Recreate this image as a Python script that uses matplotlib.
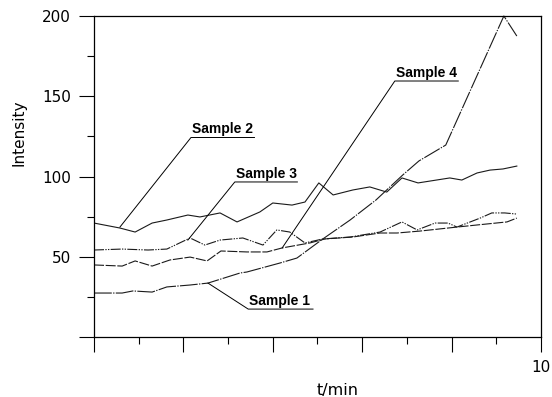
import matplotlib
matplotlib.use('Agg')
from matplotlib import pyplot as plt
from matplotlib.ticker import MultipleLocator, FuncFormatter

plt.rcParams['font.family'] = ['DejaVu Sans']

# values (t in min, intensity)
t1 = [0, 0.63, 0.87, 1.30, 1.63, 2.15, 2.55, 3.27, 3.42, 4.16, 4.54, 5.12, 5.73, 6.31, 6.91, 7.27, 7.87, 9.17, 9.46]
s1 = [27.4, 27.4, 28.7, 28.0, 31.2, 32.4, 33.6, 39.9, 40.5, 46.1, 49.2, 61.1, 72.9, 85.4, 101.0, 109.7, 119.6, 200.0, 187.5]

t2 = [0, 0.58, 0.92, 1.30, 1.63, 2.10, 2.37, 2.82, 3.20, 3.71, 4.00, 4.43, 4.72, 5.03, 5.35, 5.79, 6.17, 6.55, 6.89, 7.25, 7.96, 8.23, 8.57, 8.86, 9.15, 9.46]
s2 = [71.0, 67.9, 65.4, 71.0, 72.9, 76.0, 74.8, 77.3, 71.7, 77.9, 83.5, 82.2, 84.1, 96.0, 88.5, 91.6, 93.5, 90.3, 99.1, 96.0, 99.1, 97.8, 102.2, 104.0, 104.7, 106.5]

t3 = [0, 0.63, 1.21, 1.63, 2.15, 2.48, 2.82, 3.33, 3.78, 4.09, 4.38, 4.72, 5.12, 5.73, 6.40, 6.89, 7.23, 7.63, 7.92, 8.12, 8.64, 8.90, 9.19, 9.46]
s3 = [54.2, 54.8, 54.2, 54.8, 61.7, 57.3, 60.4, 61.7, 57.3, 66.7, 65.4, 58.6, 61.1, 62.3, 65.4, 71.7, 66.7, 71.0, 71.0, 68.5, 74.1, 77.3, 77.3, 76.6]

t4 = [0, 0.63, 0.92, 1.30, 1.70, 2.15, 2.53, 2.84, 3.42, 3.87, 4.21, 4.83, 5.17, 5.79, 6.40, 6.78, 7.29, 8.12, 8.57, 9.24, 9.46]
s4 = [44.9, 44.2, 47.4, 44.2, 48.0, 49.8, 47.4, 53.6, 53.0, 53.0, 55.5, 58.6, 61.1, 62.3, 64.8, 64.8, 66.0, 68.5, 69.8, 71.7, 74.1]

# label text: left end of underline, underline height, point on curve
names = ['Sample 1', 'Sample 2', 'Sample 3', 'Sample 4']
lab_t = [3.45, 2.17, 3.15, 6.73]
lab_v = [17.4, 124.3, 96.6, 159.5]
lab_w = [1.45, 1.42, 1.40, 1.42]
tip_t = [2.55, 0.58, 2.10, 4.21]
tip_v = [33.6, 68.5, 60.4, 55.5]

fig = plt.figure(figsize=(5.52, 3.97), dpi=100)
ax = fig.add_axes([0.1703, 0.1511, 0.8097, 0.8086])

ax.plot(t1, s1, color='#1a1a1a', lw=0.8, dashes=(16, 1.2, 1.2, 1.2), clip_on=False)
ax.plot(t2, s2, color='#1a1a1a', lw=0.8)
ax.plot(t3, s3, color='#1a1a1a', lw=0.8, dashes=(9, 1.2, 1.2, 1.2, 1.2, 1.2))
ax.plot(t4, s4, color='#1a1a1a', lw=0.8, dashes=(9, 1.5))

for i in range(4):
    ax.plot([tip_t[i], lab_t[i], lab_t[i] + lab_w[i]], [tip_v[i], lab_v[i], lab_v[i]],
            color='black', lw=0.7)
    ax.text(lab_t[i] + 0.02, lab_v[i] + 0.8, names[i], fontsize=10, fontweight='bold',
            family='Liberation Sans', ha='left', va='bottom')

ax.set_xlim(0, 10)
ax.set_ylim(0, 200)
ax.xaxis.set_major_locator(MultipleLocator(2))
ax.xaxis.set_minor_locator(MultipleLocator(1))
ax.yaxis.set_major_locator(MultipleLocator(50))
ax.yaxis.set_minor_locator(MultipleLocator(25))
ax.xaxis.set_major_formatter(FuncFormatter(lambda v, p: '10' if v == 10 else ''))
ax.yaxis.set_major_formatter(FuncFormatter(lambda v, p: '' if v == 0 else '%d' % v))
ax.tick_params(which='major', direction='out', length=10.5, width=0.8, labelsize=11, pad=6)
ax.tick_params(which='minor', direction='out', length=5, width=0.8)
for sp in ax.spines.values():
    sp.set_linewidth(0.9)

ax.set_xlabel('t/min', fontsize=11.5)
ax.xaxis.set_label_coords(0.544, -0.142)
ax.set_ylabel('Intensity', fontsize=11)
ax.yaxis.set_label_coords(-0.15, 0.636)

fig.savefig('out.png', dpi=100)
